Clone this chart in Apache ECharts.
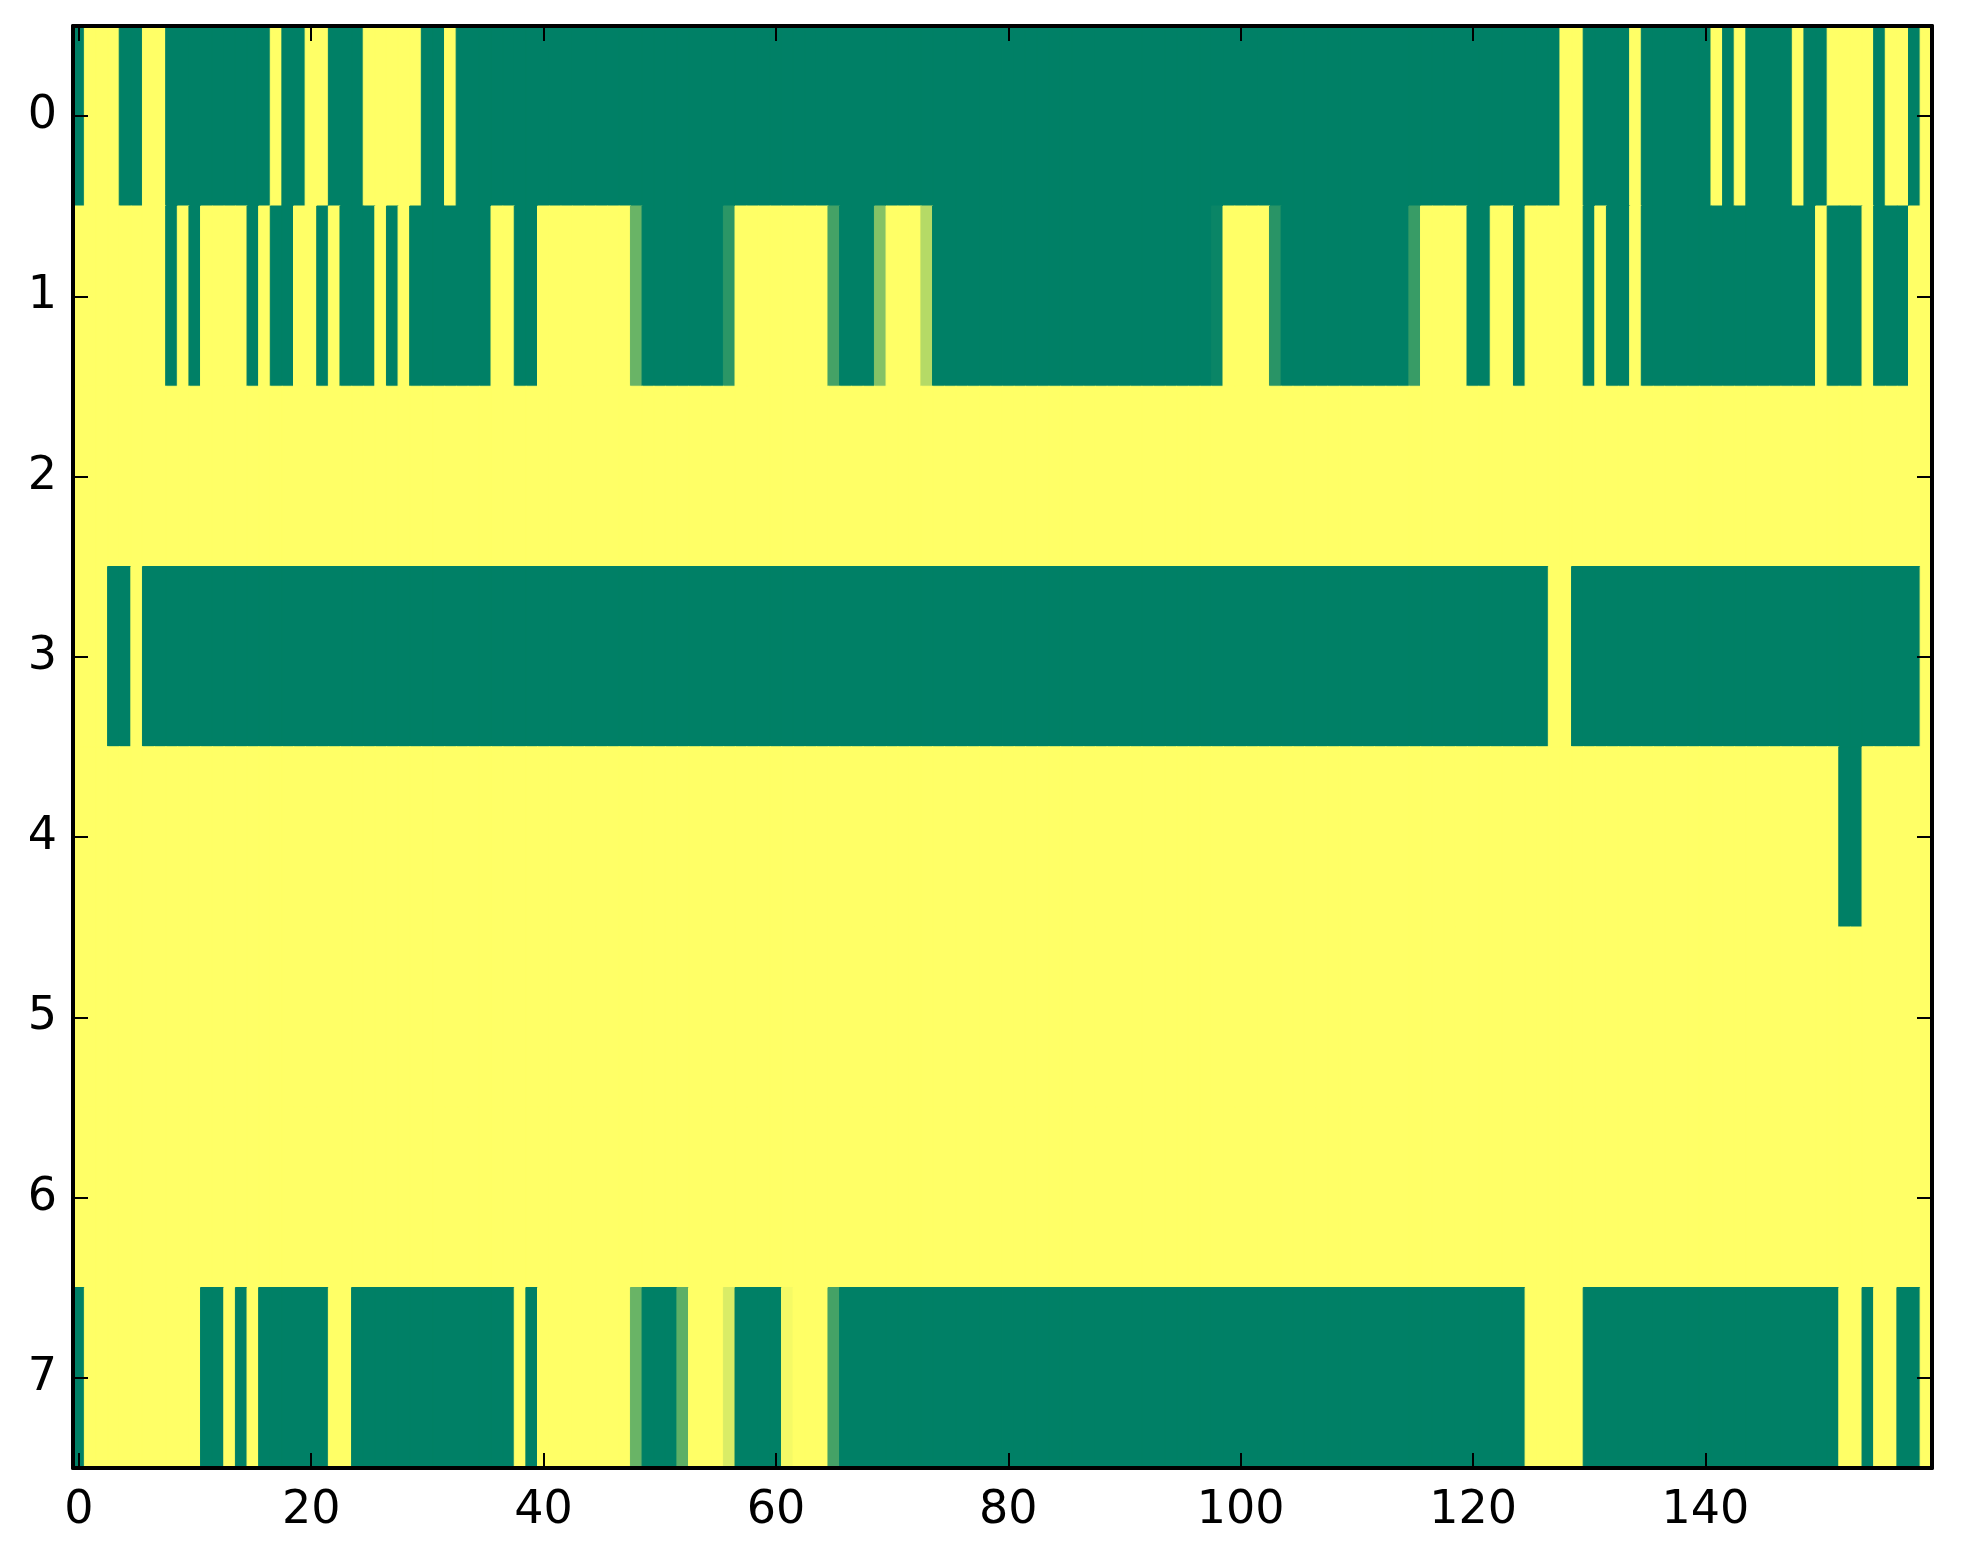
<!DOCTYPE html>
<html>
<head>
<meta charset="utf-8">
<script src="https://cdn.jsdelivr.net/npm/echarts@6/dist/echarts.min.js"></script>
<style>html,body{margin:0;padding:0;background:#fff;}#chart{width:1963px;height:1564px;}</style>
</head>
<body>
<div id="chart"></div>
<script>
// Values: 0 = dark green end of the colormap, 1 = yellow end.
const row0 = [
0,1,1,1,0,0,1,1,0,0, 0,0,0,0,0,0,0,1,0,0, 1,1,0,0,0,1,1,1,1,1, 0,0,1,0,0,0,0,0,0,0,
0,0,0,0,0,0,0,0,0,0, 0,0,0,0,0,0,0,0,0,0, 0,0,0,0,0,0,0,0,0,0, 0,0,0,0,0,0,0,0,0,0,
0,0,0,0,0,0,0,0,0,0, 0,0,0,0,0,0,0,0,0,0, 0,0,0,0,0,0,0,0,0,0, 0,0,0,0,0,0,0,0,0,0,
0,0,0,0,0,0,0,0,1,1, 0,0,0,0,1,0,0,0,0,0, 0,1,0,1,0,0,0,0,1,0, 0,1,1,1,1,0,1,1,0,1];
const row1 = [
1,1,1,1,1,1,1,1,0,1, 0,1,1,1,1,0,1,0,0,1, 1,0,1,0,0,0,1,0,1,0, 0,0,0,0,0,0,1,1,0,0,
1,1,1,1,1,1,1,1,0.41,0, 0,0,0,0,0,0,0.17,1,1,1, 1,1,1,1,1,0.27,0,0,0,0.52, 1,1,1,0.71,0,0,0,0,0,0,
0,0,0,0,0,0,0,0,0,0, 0,0,0,0,0,0,0,0,0.04,1, 1,1,1,0.16,0,0,0,0,0,0, 0,0,0,0,0,0.22,1,1,1,1,
0,0,1,1,0,1,1,1,1,1, 0,1,0,0,1,0,0,0,0,0, 0,0,0,0,0,0,0,0,0,0, 1,0,0,0,1,0,0,0,1,1];
const row2 = [
1,1,1,1,1,1,1,1,1,1, 1,1,1,1,1,1,1,1,1,1, 1,1,1,1,1,1,1,1,1,1, 1,1,1,1,1,1,1,1,1,1,
1,1,1,1,1,1,1,1,1,1, 1,1,1,1,1,1,1,1,1,1, 1,1,1,1,1,1,1,1,1,1, 1,1,1,1,1,1,1,1,1,1,
1,1,1,1,1,1,1,1,1,1, 1,1,1,1,1,1,1,1,1,1, 1,1,1,1,1,1,1,1,1,1, 1,1,1,1,1,1,1,1,1,1,
1,1,1,1,1,1,1,1,1,1, 1,1,1,1,1,1,1,1,1,1, 1,1,1,1,1,1,1,1,1,1, 1,1,1,1,1,1,1,1,1,1];
const row3 = [
1,1,1,0,0,1,0,0,0,0, 0,0,0,0,0,0,0,0,0,0, 0,0,0,0,0,0,0,0,0,0, 0,0,0,0,0,0,0,0,0,0,
0,0,0,0,0,0,0,0,0,0, 0,0,0,0,0,0,0,0,0,0, 0,0,0,0,0,0,0,0,0,0, 0,0,0,0,0,0,0,0,0,0,
0,0,0,0,0,0,0,0,0,0, 0,0,0,0,0,0,0,0,0,0, 0,0,0,0,0,0,0,0,0,0, 0,0,0,0,0,0,0,0,0,0,
0,0,0,0,0,0,0,1,1,0, 0,0,0,0,0,0,0,0,0,0, 0,0,0,0,0,0,0,0,0,0, 0,0,0,0,0,0,0,0,0,1];
const row4 = [
1,1,1,1,1,1,1,1,1,1, 1,1,1,1,1,1,1,1,1,1, 1,1,1,1,1,1,1,1,1,1, 1,1,1,1,1,1,1,1,1,1,
1,1,1,1,1,1,1,1,1,1, 1,1,1,1,1,1,1,1,1,1, 1,1,1,1,1,1,1,1,1,1, 1,1,1,1,1,1,1,1,1,1,
1,1,1,1,1,1,1,1,1,1, 1,1,1,1,1,1,1,1,1,1, 1,1,1,1,1,1,1,1,1,1, 1,1,1,1,1,1,1,1,1,1,
1,1,1,1,1,1,1,1,1,1, 1,1,1,1,1,1,1,1,1,1, 1,1,1,1,1,1,1,1,1,1, 1,1,0,0,1,1,1,1,1,1];
const row5 = [
1,1,1,1,1,1,1,1,1,1, 1,1,1,1,1,1,1,1,1,1, 1,1,1,1,1,1,1,1,1,1, 1,1,1,1,1,1,1,1,1,1,
1,1,1,1,1,1,1,1,1,1, 1,1,1,1,1,1,1,1,1,1, 1,1,1,1,1,1,1,1,1,1, 1,1,1,1,1,1,1,1,1,1,
1,1,1,1,1,1,1,1,1,1, 1,1,1,1,1,1,1,1,1,1, 1,1,1,1,1,1,1,1,1,1, 1,1,1,1,1,1,1,1,1,1,
1,1,1,1,1,1,1,1,1,1, 1,1,1,1,1,1,1,1,1,1, 1,1,1,1,1,1,1,1,1,1, 1,1,1,1,1,1,1,1,1,1];
const row6 = [
1,1,1,1,1,1,1,1,1,1, 1,1,1,1,1,1,1,1,1,1, 1,1,1,1,1,1,1,1,1,1, 1,1,1,1,1,1,1,1,1,1,
1,1,1,1,1,1,1,1,1,1, 1,1,1,1,1,1,1,1,1,1, 1,1,1,1,1,1,1,1,1,1, 1,1,1,1,1,1,1,1,1,1,
1,1,1,1,1,1,1,1,1,1, 1,1,1,1,1,1,1,1,1,1, 1,1,1,1,1,1,1,1,1,1, 1,1,1,1,1,1,1,1,1,1,
1,1,1,1,1,1,1,1,1,1, 1,1,1,1,1,1,1,1,1,1, 1,1,1,1,1,1,1,1,1,1, 1,1,1,1,1,1,1,1,1,1];
const row7 = [
0,1,1,1,1,1,1,1,1,1, 1,0,0,1,0,1,0,0,0,0, 0,0,1,1,0,0,0,0,0,0, 0,0,0,0,0,0,0,0,1,0,
1,1,1,1,1,1,1,1,0.41,0, 0,0,0.37,1,1,1,0.85,0,0,0, 0,0.96,1,1,1,0.27,0,0,0,0, 0,0,0,0,0,0,0,0,0,0,
0,0,0,0,0,0,0,0,0,0, 0,0,0,0,0,0,0,0,0,0, 0,0,0,0,0,0,0,0,0,0, 0,0,0,0,0,0,0,0,0,0,
0,0,0,0,0,1,1,1,1,1, 0,0,0,0,0,0,0,0,0,0, 0,0,0,0,0,0,0,0,0,0, 0,0,1,1,0,1,1,0,0,1];

const rowLabels = ['0','1','2','3','4','5','6','7'];
const xTickLabels = ['0','20','40','60','80','100','120','140'];
const colorLow = '#008066';
const colorHigh = '#ffff66';

const rows = [row0, row1, row2, row3, row4, row5, row6, row7];
const nCols = row0.length;
const xCats = [];
for (let i = 0; i < nCols; i++) xCats.push(String(i));
const data = [];
rows.forEach((r, y) => r.forEach((v, x) => data.push({
  value: [x, y, v],
  // stroke each cell in its own colour so neighbouring cells have no anti-alias seams
  itemStyle: { borderColor: echarts.color.lerp(v, [colorLow, colorHigh]), borderWidth: 1 }
})));

const FONT = 'DejaVu Sans';
const showX = (idx, val) => xTickLabels.indexOf(String(val)) >= 0;
const tickStyle = { color: '#000', width: 2 };
const lineStyle = { color: '#000', width: 4 };

const chart = echarts.init(document.getElementById('chart'), null, { renderer: 'canvas' });
chart.setOption({
  backgroundColor: '#fff',
  animation: false,
  grid: { left: 73, top: 26, width: 1859, height: 1442, outerBoundsMode: 'none', containLabel: false },
  visualMap: { show: false, min: 0, max: 1, dimension: 2, inRange: { color: [colorLow, colorHigh] } },
  xAxis: [
    { type: 'category', data: xCats, position: 'bottom', boundaryGap: true, z: 10,
      axisLine: { show: true, onZero: false, lineStyle },
      axisTick: { show: true, inside: true, length: 15, alignWithLabel: true, interval: showX, lineStyle: tickStyle },
      axisLabel: { show: true, interval: showX, color: '#000', fontFamily: FONT, fontSize: 46, margin: 20 },
      splitLine: { show: false } },
    { type: 'category', data: xCats, position: 'top', boundaryGap: true, z: 10,
      axisLine: { show: true, onZero: false, lineStyle },
      axisTick: { show: true, inside: true, length: 15, alignWithLabel: true, interval: showX, lineStyle: tickStyle },
      axisLabel: { show: false }, splitLine: { show: false } }
  ],
  yAxis: [
    { type: 'category', data: rowLabels, inverse: true, position: 'left', boundaryGap: true, z: 10,
      axisLine: { show: true, onZero: false, lineStyle },
      axisTick: { show: true, inside: true, length: 15, alignWithLabel: true, lineStyle: tickStyle },
      axisLabel: { show: true, color: '#000', fontFamily: FONT, fontSize: 46, margin: 16 },
      splitLine: { show: false } },
    { type: 'category', data: rowLabels, inverse: true, position: 'right', boundaryGap: true, z: 10,
      axisLine: { show: true, onZero: false, lineStyle },
      axisTick: { show: true, inside: true, length: 15, alignWithLabel: true, lineStyle: tickStyle },
      axisLabel: { show: false }, splitLine: { show: false } }
  ],
  series: [{
    type: 'heatmap', xAxisIndex: 0, yAxisIndex: 0, data: data, z: 2,
    emphasis: { disabled: true }, progressive: 0
  }]
});
</script>
</body>
</html>
